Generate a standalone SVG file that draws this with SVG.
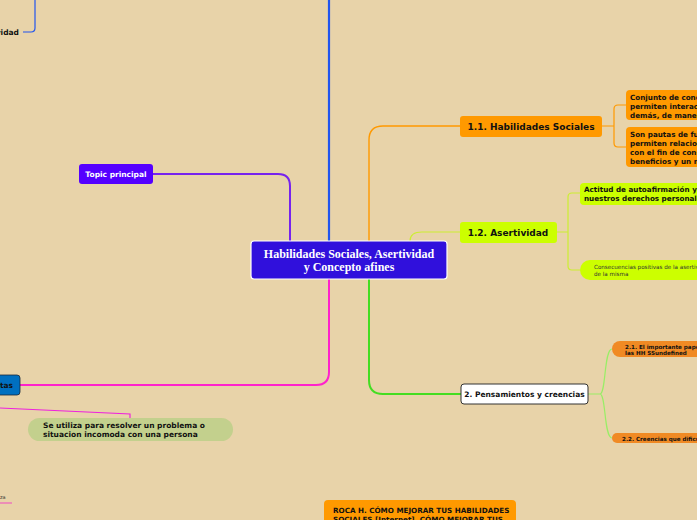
<svg xmlns="http://www.w3.org/2000/svg" width="697" height="520" viewBox="0 0 697 520">
<style>
.t{font-family:"DejaVu Sans",Verdana,sans-serif;font-weight:bold;fill:#111}
.c{fill:none}
</style>
<rect width="697" height="520" fill="#E8D3A9"/>
<g id="connectors">
  <path class="c" d="M329 241 V0" stroke="#2255EE" stroke-width="2.2"/>
  <path class="c" d="M23 32 H31 Q35 32 35 28 V0" stroke="#2255EE" stroke-width="1.2"/>
  <path class="c" d="M290 241 V186 Q290 174 278 174 H153" stroke="#7722EE" stroke-width="2"/>
  <path class="c" d="M369 241 V140 Q369 126 383 126 H460" stroke="#FF9900" stroke-width="1.4"/>
  <path class="c" d="M410 241 Q410 232 422 232 H460" stroke="#CCEE33" stroke-width="1.2"/>
  <path class="c" d="M369 279 V380 Q369 394 383 394 H461" stroke="#44DD22" stroke-width="2"/>
  <path class="c" d="M329 279 V372 Q329 385 316 385 H20" stroke="#FF22CC" stroke-width="2"/>
  <path class="c" d="M0 408 L130 414 V418" stroke="#EE22DD" stroke-width="1.2"/>
  <path class="c" d="M0 503 H12" stroke="#EE77BB" stroke-width="1.5"/>
  <path class="c" d="M602 126 H614 M626 105 H618 Q614 105 614 109 V143 Q614 147 618 147 H626" stroke="#FF9900" stroke-width="1.2"/>
  <path class="c" d="M557 232 H568 M580 193 H572 Q568 193 568 197 V266 Q568 270 572 270 H580" stroke="#CCEE33" stroke-width="1.2"/>
  <path class="c" d="M588 394 H600 C606 394 604 349 612 349 M600 394 C606 394 604 438 612 438" stroke="#99EE66" stroke-width="1.2"/>
</g>
<g id="center">
  <rect x="251" y="241" width="196" height="38" rx="3" fill="#3010DC" stroke="#fff" stroke-width="1.2"/>
  <text x="349" y="258" text-anchor="middle" font-family="'Liberation Serif',serif" font-weight="bold" font-size="12" fill="#fff">Habilidades Sociales, Asertividad</text>
  <text x="349" y="270.5" text-anchor="middle" font-family="'Liberation Serif',serif" font-weight="bold" font-size="12" fill="#fff">y Concepto afines</text>
</g>
<g id="topic-principal">
  <rect x="79" y="164" width="74" height="20" rx="3" fill="#5500FF"/>
  <text x="116" y="177" text-anchor="middle" class="t" font-size="7.5" style="fill:#fff">Topic principal</text>
</g>
<g id="asertividad-top">
  <text x="19" y="35" text-anchor="end" class="t" font-size="7.5">ividad</text>
</g>
<g id="n11">
  <rect x="460" y="116" width="142" height="21" rx="3" fill="#FF9900"/>
  <text x="531" y="130" text-anchor="middle" class="t" font-size="9">1.1. Habilidades Sociales</text>
</g>
<g id="n11a">
  <rect x="626" y="90" width="90" height="30" rx="4" fill="#FF9900"/>
  <text class="t" font-size="7.2"><tspan x="630" y="100">Conjunto de conductas</tspan><tspan x="630" y="109">permiten interactuar</tspan><tspan x="630" y="118">demás, de manera</tspan></text>
</g>
<g id="n11b">
  <rect x="626" y="127" width="90" height="40" rx="4" fill="#FF9900"/>
  <text class="t" font-size="7.2"><tspan x="630" y="137">Son pautas de funcionamiento</tspan><tspan x="630" y="146">permiten relacionarnos</tspan><tspan x="630" y="155">con el fin de conseguir</tspan><tspan x="630" y="164">beneficios y un mínimo</tspan></text>
</g>
<g id="n12">
  <rect x="460" y="222" width="97" height="21" rx="3" fill="#CCFF00"/>
  <text x="508" y="236" text-anchor="middle" class="t" font-size="9">1.2. Asertividad</text>
</g>
<g id="n12a">
  <rect x="580" y="183" width="130" height="22" rx="4" fill="#CCFF00"/>
  <text class="t" font-size="7.2"><tspan x="584" y="192">Actitud de autoafirmación y defensa de</tspan><tspan x="584" y="201">nuestros derechos personales</tspan></text>
</g>
<g id="n12b">
  <rect x="580" y="260" width="130" height="20" rx="10" fill="#CCFF00"/>
  <text font-family="'DejaVu Sans',sans-serif" font-size="5.6" fill="#333"><tspan x="594" y="268.5">Consecuencias positivas de la asertividad</tspan><tspan x="594" y="275.5">de la misma</tspan></text>
</g>
<g id="n2">
  <rect x="461" y="384" width="127" height="20" rx="3" fill="#fff" stroke="#333" stroke-width="1"/>
  <text x="524.5" y="397" text-anchor="middle" class="t" font-size="7.5">2. Pensamientos y creencias</text>
</g>
<g id="n21">
  <rect x="612" y="341" width="100" height="16" rx="8" fill="#F08A24"/>
  <text class="t" font-size="5.6"><tspan x="625" y="348.5">2.1. El importante papel de</tspan><tspan x="625" y="355">las HH SSundefined</tspan></text>
</g>
<g id="n22">
  <rect x="612" y="433" width="100" height="10" rx="5" fill="#F08A24"/>
  <text x="622" y="440.5" class="t" font-size="5.6">2.2. Creencias que dificultan</text>
</g>
<g id="tas">
  <rect x="-40" y="375" width="60" height="20" rx="3" fill="#0070C0" stroke="#1a2a3a" stroke-width="0.8"/>
  <text x="13" y="388" text-anchor="end" class="t" font-size="7.5">tas</text>
</g>
<g id="se-utiliza">
  <rect x="28" y="418" width="205" height="23" rx="11.5" fill="#C3D08D"/>
  <text class="t" font-size="7.5"><tspan x="43" y="428">Se utiliza para resolver un problema o</tspan><tspan x="43" y="437">situacion incomoda con una persona</tspan></text>
</g>
<g id="za">
  <text x="0" y="499" font-family="'DejaVu Sans',sans-serif" font-size="5" fill="#333">za</text>
</g>
<g id="roca">
  <rect x="324" y="500" width="192" height="30" rx="4" fill="#FF9900"/>
  <text class="t" font-size="7.2"><tspan x="333" y="513">ROCA H. CÓMO MEJORAR TUS HABILIDADES</tspan><tspan x="333" y="522">SOCIALES [Internet]. CÓMO MEJORAR TUS</tspan></text>
</g>
</svg>
